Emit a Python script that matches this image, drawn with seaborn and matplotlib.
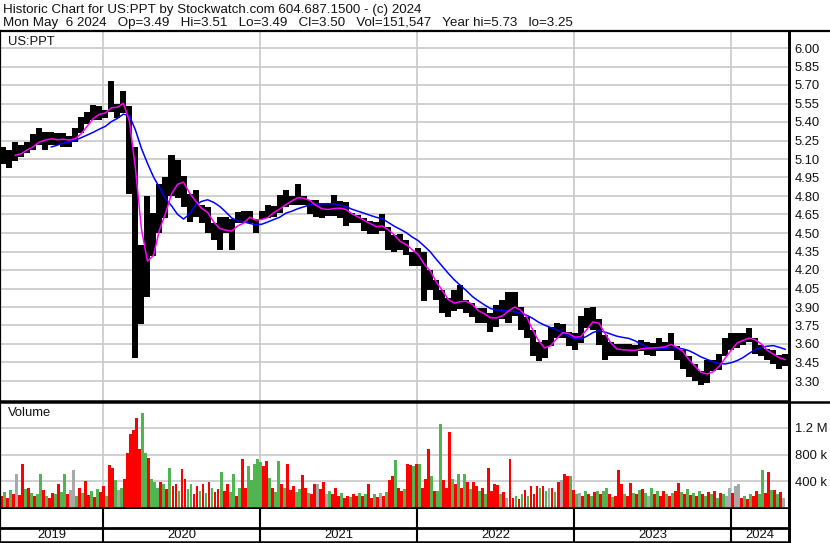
import numpy as np
import pandas as pd
import matplotlib
matplotlib.use("Agg")
import matplotlib.pyplot as plt
from matplotlib.lines import Line2D
import seaborn as sns

sns.set_style("white")
plt.rcParams["font.family"] = ["Liberation Sans", "DejaVu Sans"]

# ---------------- data ----------------
START = pd.Timestamp("2019-05-06")
PERIOD_DAYS = 14   # price bars: two-week high/low ranges
WEEK_DAYS = 7      # volume bars: weekly

price_hi = [5.20, 5.17, 5.24, 5.21, 5.24, 5.30, 5.35, 5.32, 5.32, 5.31,
            5.31, 5.29, 5.35, 5.44, 5.48, 5.54, 5.53, 5.50, 5.73, 5.55,
            5.65, 5.53, 5.20, 4.40, 4.80, 4.66, 4.90, 4.95, 5.13, 5.09,
            4.96, 4.82, 4.85, 4.73, 4.71, 4.58, 4.63, 4.63, 4.61, 4.67,
            4.68, 4.68, 4.61, 4.68, 4.73, 4.72, 4.81, 4.85, 4.80, 4.90,
            4.80, 4.77, 4.77, 4.74, 4.74, 4.81, 4.76, 4.75, 4.66, 4.65,
            4.62, 4.60, 4.59, 4.65, 4.55, 4.48, 4.49, 4.44, 4.35, 4.38,
            4.35, 4.20, 4.12, 4.04, 3.97, 4.04, 4.08, 3.96, 3.93, 3.89,
            3.89, 3.85, 3.92, 3.96, 4.02, 4.02, 3.90, 3.82, 3.71, 3.62,
            3.63, 3.74, 3.77, 3.76, 3.70, 3.69, 3.83, 3.89, 3.90, 3.80,
            3.67, 3.62, 3.60, 3.60, 3.60, 3.59, 3.63, 3.62, 3.61, 3.65,
            3.62, 3.69, 3.58, 3.55, 3.50, 3.44, 3.38, 3.47, 3.47, 3.52,
            3.65, 3.69, 3.69, 3.69, 3.73, 3.65, 3.59, 3.56, 3.55, 3.51,
            3.52]
price_lo = [5.06, 5.03, 5.08, 5.12, 5.15, 5.17, 5.21, 5.17, 5.21, 5.21,
            5.20, 5.20, 5.24, 5.31, 5.38, 5.42, 5.42, 5.43, 5.48, 5.43,
            5.47, 4.82, 3.49, 3.76, 3.98, 4.31, 4.50, 4.62, 4.80, 4.78,
            4.71, 4.59, 4.63, 4.58, 4.50, 4.44, 4.36, 4.50, 4.36, 4.58,
            4.58, 4.58, 4.50, 4.61, 4.62, 4.63, 4.66, 4.71, 4.73, 4.73,
            4.73, 4.65, 4.63, 4.62, 4.64, 4.64, 4.62, 4.56, 4.58, 4.58,
            4.52, 4.49, 4.49, 4.52, 4.36, 4.35, 4.36, 4.32, 4.23, 4.23,
            3.95, 4.04, 3.96, 3.85, 3.82, 3.87, 3.88, 3.85, 3.82, 3.77,
            3.77, 3.70, 3.74, 3.80, 3.77, 3.83, 3.71, 3.65, 3.50, 3.46,
            3.49, 3.58, 3.65, 3.65, 3.58, 3.55, 3.61, 3.73, 3.71, 3.59,
            3.47, 3.50, 3.50, 3.50, 3.50, 3.50, 3.54, 3.51, 3.50, 3.54,
            3.54, 3.54, 3.47, 3.40, 3.33, 3.30, 3.27, 3.28, 3.38, 3.39,
            3.50, 3.55, 3.57, 3.59, 3.62, 3.52, 3.50, 3.47, 3.44, 3.40,
            3.42]

# weekly volume in thousands of shares
volume_k = [180, 230, 150, 260, 200, 510, 190, 660, 280, 300,
            220, 170, 200, 510, 260, 180, 150, 220, 200, 350,
            240, 500, 200, 270, 560, 180, 300, 220, 400, 190,
            250, 160, 280, 230, 330, 180, 640, 600, 420, 260,
            300, 430, 816, 1110, 1170, 1350, 890, 1420, 816, 740,
            430, 380, 300, 380, 350, 280, 590, 320, 360, 250,
            580, 430, 280, 350, 200, 330, 250, 350, 220, 380,
            300, 240, 280, 530, 250, 350, 240, 510, 170, 300,
            730, 300, 620, 410, 650, 730, 680, 620, 700, 450,
            300, 240, 700, 350, 300, 650, 260, 330, 240, 280,
            490, 300, 220, 200, 350, 360, 280, 380, 200, 250,
            200, 300, 180, 220, 150, 180, 160, 200, 170, 220,
            180, 200, 360, 150, 200, 160, 220, 180, 240, 420,
            480, 720, 300, 250, 280, 650, 640, 620, 660, 660,
            300, 430, 890, 470, 250, 250, 1260, 420, 300, 1140,
            430, 350, 510, 300, 510, 380, 280, 380, 330, 250,
            300, 200, 590, 250, 360, 340, 200, 240, 150, 730,
            150, 170, 130, 200, 260, 180, 330, 200, 330, 300,
            330, 250, 290, 300, 240, 380, 420, 510, 470, 480,
            260, 200, 220, 180, 250, 200, 170, 230, 250, 210,
            250, 290, 200, 160, 180, 560, 360, 200, 180, 375,
            220, 200, 270, 280, 220, 180, 290, 200, 250, 180,
            250, 200, 180, 220, 250, 370, 230, 200, 280, 190,
            220, 170, 250, 200, 180, 230, 200, 250, 150, 220,
            200, 170, 290, 220, 320, 350, 150, 180, 130, 200,
            170, 250, 200, 560, 220, 530, 260, 270, 200, 240,
            150]
# r = down week, g = up week, a = unchanged
volume_dir = ("rgrgrarrgr" "grggrgrrgr" "ggraagrgrr" "grgrrgrrga"
              "grrrrrrggr" "gggrgrgrrg" "rrggrrgrgr" "grrgrrggrg"
              "rrgggggrrg" "rggrgrrrgg" "rrgrrarrag" "rrrgrrgrrg"
              "rgrrgrargr" "rgrrgrrgrg" "rrrgrggrrr" "grgrgrgrrg"
              "rgrrrrgrar" "rgrgrgrrrg" "rgargrarrg" "rgargrgrgr"
              "ggrgrrrgrr" "grgrgagrgr" "rgrgrrgrgr" "grgrgrgrgr"
              "gaaraargrg" "rrggrrgrgr" "a")

years = ["2019", "2020", "2021", "2022", "2023", "2024"]
price_ticks = [3.30, 3.45, 3.60, 3.75, 3.90, 4.05, 4.20, 4.35, 4.50, 4.65,
               4.80, 4.95, 5.10, 5.25, 5.40, 5.55, 5.70, 5.85, 6.00]
vol_ticks = [400_000, 800_000, 1_200_000]
vol_tick_labels = ["400 k", "800 k", "1.2 M"]

header1 = "Historic Chart for US:PPT by Stockwatch.com 604.687.1500 - (c) 2024"
header2 = ("Mon May  6 2024   Op=3.49   Hi=3.51   Lo=3.49   Cl=3.50   "
           "Vol=151,547   Year hi=5.73   lo=3.25")

# ---------------- frames ----------------
n_p = len(price_hi)
price = pd.DataFrame({
    "day": np.arange(n_p) * PERIOD_DAYS,
    "hi": price_hi,
    "lo": price_lo,
})
price["mid"] = (price["hi"] + price["lo"]) / 2
price["center"] = price["day"] + PERIOD_DAYS / 2
price["ma_short"] = price["mid"].rolling(3).mean()
price["ma_long"] = price["mid"].rolling(9).mean()

vol = pd.DataFrame({
    "day": np.arange(len(volume_k)) * WEEK_DAYS,
    "volume": np.array(volume_k) * 1000,
    "dir": list(volume_dir),
})
dir_colors = {"r": "#ff0000", "g": "#50b450", "a": "#a8a8a8"}

year_days = [(pd.Timestamp(f"{y}-01-01") - START).days for y in years[1:]]

# ---------------- figure ----------------
W, H = 830, 543
fig = plt.figure(figsize=(W / 100, H / 100), dpi=100)
fig.patch.set_facecolor("white")


def rect(x0, y0, x1, y1):
    return [x0 / W, 1 - y1 / H, (x1 - x0) / W, (y1 - y0) / H]


px_per_day = 157.0 / 365.25
xmax = 789 / px_per_day
GRID = "#c8c8c8"
TXT = "#111111"
FS = 9.6

# price panel
ax_p = fig.add_axes(rect(0, 31, 789, 401))
ax_p.bar(price["day"], price["hi"] - price["lo"],
         bottom=price["lo"], width=PERIOD_DAYS, align="edge",
         color="black", linewidth=0, zorder=2)
sns.lineplot(data=price, x="center", y="ma_long", color="#0000ff",
             linewidth=1.1, ax=ax_p, zorder=3)
sns.lineplot(data=price, x="center", y="ma_short", color="#ff00ff",
             linewidth=1.1, ax=ax_p, zorder=4)
ax_p.set_xlim(0, xmax)
ax_p.set_ylim(6.00 - (401 - 48) / 18.5 * 0.15, 6.00 + (48 - 31) / 18.5 * 0.15)
ax_p.set_yticks(price_ticks)
ax_p.set_yticklabels([f"{v:.2f}" for v in price_ticks])
ax_p.set_xticks(year_days)
ax_p.set_xticklabels([])
ax_p.yaxis.tick_right()
ax_p.tick_params(axis="y", length=0, pad=4, labelsize=9.4, labelcolor=TXT)
ax_p.tick_params(axis="x", length=0)
ax_p.grid(True, color=GRID, linewidth=1.2, zorder=0)
ax_p.set_axisbelow(True)
ax_p.set_xlabel("")
ax_p.set_ylabel("")
ax_p.text(8 / 789, 1 - 11 / 370, "US:PPT", transform=ax_p.transAxes,
          fontsize=9.4, va="center", ha="left", color=TXT)

# volume panel
ax_v = fig.add_axes(rect(0, 402, 789, 507.5))
ax_v.bar(vol["day"], vol["volume"], width=WEEK_DAYS * 0.95, align="edge",
         color=[dir_colors[d] for d in vol["dir"]], linewidth=0, zorder=2)
ax_v.set_xlim(0, xmax)
ax_v.set_ylim(0, 105.5 / 26.5 * 400_000)
ax_v.set_yticks(vol_ticks)
ax_v.set_yticklabels(vol_tick_labels)
ax_v.set_xticks(year_days)
ax_v.set_xticklabels([])
ax_v.yaxis.tick_right()
ax_v.tick_params(axis="y", length=0, pad=4, labelsize=9.4, labelcolor=TXT)
ax_v.tick_params(axis="x", length=0)
ax_v.grid(True, color=GRID, linewidth=1.2, zorder=0)
ax_v.set_axisbelow(True)
ax_v.text(8 / 789, 1 - 11 / 105.5, "Volume", transform=ax_v.transAxes,
          fontsize=9.4, va="center", ha="left", color=TXT)

# year band
ax_y = fig.add_axes(rect(0, 509, 789, 541.5))
ax_y.set_xlim(0, xmax)
ax_y.set_ylim(0, 1)
ax_y.set_xticks([])
ax_y.set_yticks([])
row_split = (541.5 - 527.5) / 32.5
ax_y.axhline(row_split, color="black", linewidth=2)
for d in year_days:
    ax_y.axvline(d, color="black", linewidth=1.5)
edges = [0] + year_days + [xmax]
for i, y in enumerate(years):
    ax_y.text((edges[i] + edges[i + 1]) / 2, row_split / 2, y,
              ha="center", va="center", fontsize=9.4, color=TXT)

for ax in (ax_p, ax_v, ax_y):
    for s in ax.spines.values():
        s.set_color("black")
    ax.spines["left"].set_linewidth(1.6)
    ax.spines["right"].set_linewidth(2.0)
    ax.spines["top"].set_linewidth(0)
    ax.spines["bottom"].set_linewidth(1.8)

# outer rules
fig.add_artist(Line2D([0, 1], [1 - 30.8 / H] * 2, color="black", linewidth=1.6))
fig.add_artist(Line2D([0, 1], [1 - 401.5 / H] * 2, color="black", linewidth=1.8))
fig.add_artist(Line2D([789 / W] * 2, [0, 1 - 30.8 / H], color="black", linewidth=2.0))

# header
fig.text(3 / W, 1 - 9.5 / H, header1, fontsize=FS, va="center", ha="left", color=TXT)
fig.text(3 / W, 1 - 23 / H, header2, fontsize=FS, va="center", ha="left", color=TXT)

fig.savefig("out.png", dpi=100, facecolor="white")
